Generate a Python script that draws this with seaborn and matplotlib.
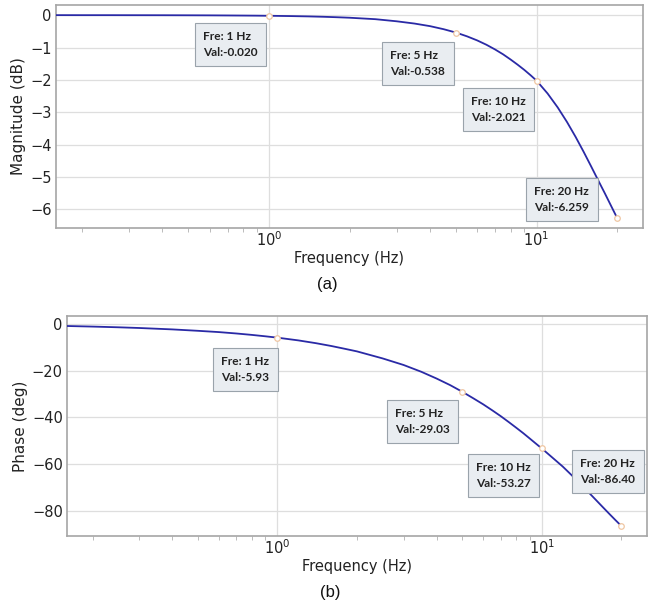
import matplotlib
matplotlib.use("Agg")
import matplotlib.pyplot as plt
import seaborn as sns
import pandas as pd

# ---- data ----
freq = [0.16, 0.2, 0.25, 0.3, 0.4, 0.5, 0.6, 0.7, 0.8, 0.9, 1.0, 1.2, 1.4, 1.6,
        1.8, 2.0, 2.5, 3.0, 3.5, 4.0, 4.5, 5.0, 5.5, 6.0, 6.5, 7.0, 7.5, 8.0,
        8.5, 9.0, 9.5, 10.0, 11.0, 12.0, 13.0, 14.0, 15.0, 16.0, 17.0, 18.0,
        19.0, 20.0]
magnitude_db = [0.000, -0.001, -0.001, -0.002, -0.003, -0.005, -0.007, -0.010,
                -0.013, -0.016, -0.020, -0.029, -0.039, -0.051, -0.065, -0.080,
                -0.125, -0.190, -0.260, -0.340, -0.435, -0.538, -0.655, -0.780,
                -0.915, -1.060, -1.210, -1.370, -1.530, -1.690, -1.855, -2.021,
                -2.420, -2.850, -3.300, -3.760, -4.220, -4.670, -5.100, -5.500,
                -5.890, -6.259]
phase_deg = [-0.95, -1.2, -1.5, -1.8, -2.4, -3.0, -3.55, -4.15, -4.75, -5.35,
             -5.93, -7.1, -8.3, -9.5, -10.7, -11.8, -14.8, -17.6, -20.5, -23.4,
             -26.2, -29.03, -31.8, -34.4, -37.0, -39.5, -42.0, -44.4, -46.7,
             -49.0, -51.2, -53.27, -57.3, -61.0, -64.8, -68.5, -71.9, -75.2,
             -78.3, -81.2, -83.9, -86.40]

mark_freq = [1, 5, 10, 20]
mark_mag = [-0.020, -0.538, -2.021, -6.259]
mark_phase = [-5.93, -29.03, -53.27, -86.40]

df = pd.DataFrame({"freq": freq, "mag": magnitude_db, "phase": phase_deg})

# ---- style ----
sns.set_theme(style="whitegrid")
plt.rcParams["font.family"] = ["DejaVu Sans"]

W, H = 653, 612
fig = plt.figure(figsize=(W / 100, H / 100), dpi=100)
fig.patch.set_facecolor("white")

line_color = "#2a2aa6"
spine_color = "#a6a6a6"
grid_color = "#dedede"


def px_axes(l, t, r, b):
    return fig.add_axes([l / W, 1 - b / H, (r - l) / W, (b - t) / H])


ax1 = px_axes(56, 5, 643, 228)
ax2 = px_axes(67, 316, 647, 536)


def style_axes(ax):
    ax.set_facecolor("white")
    for s in ax.spines.values():
        s.set_color(spine_color)
        s.set_linewidth(1.2)
    ax.grid(True, which="major", color=grid_color, linewidth=0.9)
    ax.grid(False, which="minor")
    ax.tick_params(axis="both", which="major", length=0, pad=3,
                   labelsize=10.5, labelcolor="#222222")
    ax.tick_params(axis="x", which="major", pad=2)
    ax.tick_params(axis="x", which="minor", bottom=True, length=3, width=0.7,
                   color="#bbbbbb")


box_style = dict(boxstyle="square,pad=0.7", facecolor="#e9edf1",
                 edgecolor="#9aa3ab", linewidth=0.8)
FS = 8.6
PAD_PX = 0.7 * FS * 100 / 72


def draw(ax, ycol, ylabel, marks, labels, box_px):
    sns.lineplot(data=df, x="freq", y=ycol, ax=ax, color=line_color,
                 linewidth=1.3, zorder=3)
    ax.set_xscale("log")
    ax.set_xlim(0.16, 25)
    sns.scatterplot(x=mark_freq, y=marks, ax=ax, marker="o", s=16,
                    facecolor="white", edgecolor="#efc6a2", linewidth=0.9,
                    zorder=4)
    style_axes(ax)
    ax.set_xlabel("Frequency (Hz)", fontsize=10.5, color="#222222", labelpad=1)
    ax.set_ylabel(ylabel, fontsize=11, color="#222222", labelpad=3)
    for (bx, by), txt in zip(box_px, labels):
        fig.text((bx + PAD_PX) / W, 1 - (by + PAD_PX) / H, txt, ha="left",
                 va="top", fontsize=FS, fontweight="bold",
                 family=["Lato", "DejaVu Sans"], color="#222222",
                 linespacing=1.5, bbox=box_style, zorder=10)


mag_labels = [f"Fre: {f} Hz\nVal:{v:.3f}" for f, v in zip(mark_freq, mark_mag)]
ph_labels = [f"Fre: {f} Hz\nVal:{v:.2f}" for f, v in zip(mark_freq, mark_phase)]

draw(ax1, "mag", "Magnitude (dB)", mark_mag, mag_labels,
     [(195, 23), (382, 42), (463, 88), (526, 178)])
ax1.set_yticks([0, -1, -2, -3, -4, -5, -6])

draw(ax2, "phase", "Phase (deg)", mark_phase, ph_labels,
     [(213, 348), (387, 400), (468, 454), (572, 450)])
ax2.set_yticks([0, -20, -40, -60, -80])

fig.text(327 / W, 1 - 285 / H, "(a)", ha="center", va="center", fontsize=12,
         family=["Liberation Sans", "DejaVu Sans"], color="#111111")
fig.text(330 / W, 1 - 593 / H, "(b)", ha="center", va="center", fontsize=12,
         family=["Liberation Sans", "DejaVu Sans"], color="#111111")

fig.savefig("out.png", dpi=100, facecolor="white")
